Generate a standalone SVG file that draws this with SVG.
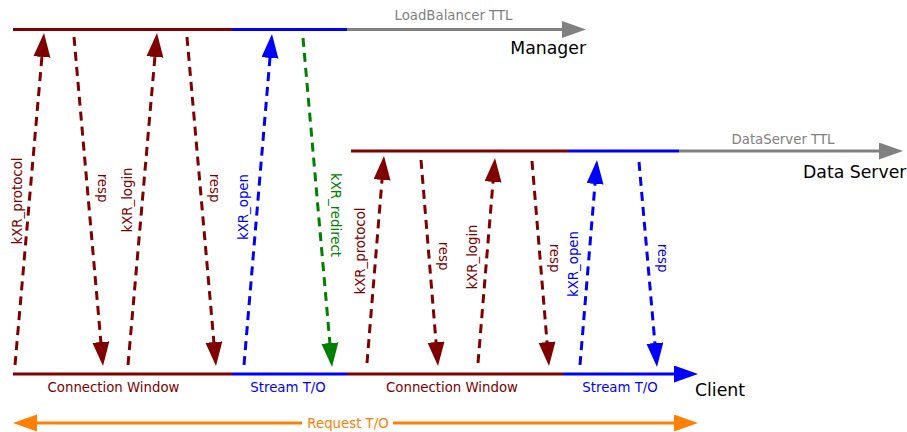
<svg xmlns="http://www.w3.org/2000/svg" width="907" height="432" viewBox="0 0 907 432">
<style>
text{font-family:"DejaVu Sans","Liberation Sans",sans-serif;font-size:13.3px}
.big{font-size:17.3px;fill:#000}
.dr{fill:#800000}.bl{fill:#0000ff}.gr{fill:#008000}.gy{fill:#808080}.or{fill:#ff8000}
.h{stroke-width:3;fill:none}
.d{stroke-width:3;fill:none;stroke-dasharray:9,6}
</style>
<defs>
<marker id="mDr" markerUnits="userSpaceOnUse" markerWidth="25" markerHeight="18" refX="12" refY="8.5" orient="auto"><path d="M0,0L24,8.5L0,17z" fill="#800000"/></marker>
<marker id="mBl" markerUnits="userSpaceOnUse" markerWidth="25" markerHeight="18" refX="12" refY="8.5" orient="auto"><path d="M0,0L24,8.5L0,17z" fill="#0000ff"/></marker>
<marker id="mGr" markerUnits="userSpaceOnUse" markerWidth="25" markerHeight="18" refX="12" refY="8.5" orient="auto"><path d="M0,0L24,8.5L0,17z" fill="#008000"/></marker>
<marker id="mGy" markerUnits="userSpaceOnUse" markerWidth="25" markerHeight="18" refX="12" refY="8.5" orient="auto"><path d="M0,0L24,8.5L0,17z" fill="#808080"/></marker>
<marker id="mOr" markerUnits="userSpaceOnUse" markerWidth="25" markerHeight="18" refX="12" refY="8.5" orient="auto-start-reverse"><path d="M0,0L24,8.5L0,17z" fill="#ff8000"/></marker>
</defs>

<g id="manager">
<line class="h" x1="13" y1="29.5" x2="232" y2="29.5" stroke="#800000"/>
<line class="h" x1="232" y1="29.5" x2="347" y2="29.5" stroke="#0000ff"/>
<line class="h" x1="347" y1="29.5" x2="574" y2="29.5" stroke="#808080" marker-end="url(#mGy)"/>
<text class="gy" x="453.5" y="20" text-anchor="middle">LoadBalancer TTL</text>
<text class="big" x="586" y="54" text-anchor="end">Manager</text>
</g>

<g id="dataserver">
<line class="h" x1="351" y1="151" x2="568" y2="151" stroke="#800000"/>
<line class="h" x1="568" y1="151" x2="679" y2="151" stroke="#0000ff"/>
<line class="h" x1="679" y1="151" x2="891" y2="151" stroke="#808080" marker-end="url(#mGy)"/>
<text class="gy" x="783" y="144" text-anchor="middle">DataServer TTL</text>
<text class="big" x="803" y="178">Data Server</text>
</g>

<g id="client">
<line class="h" x1="13" y1="374" x2="232" y2="374" stroke="#800000"/>
<line class="h" x1="232" y1="374" x2="347" y2="374" stroke="#0000ff"/>
<line class="h" x1="347" y1="374" x2="563" y2="374" stroke="#800000"/>
<line class="h" x1="563" y1="374" x2="686" y2="374" stroke="#0000ff" marker-end="url(#mBl)"/>
<text class="dr" x="113.5" y="392" text-anchor="middle">Connection Window</text>
<text class="bl" x="288" y="392" text-anchor="middle">Stream T/O</text>
<text class="dr" x="452" y="392" text-anchor="middle">Connection Window</text>
<text class="bl" x="620" y="392" text-anchor="middle">Stream T/O</text>
<text class="big" x="695" y="396">Client</text>
</g>

<g id="request">
<line class="h" x1="25" y1="423" x2="686" y2="423" stroke="#ff8000" marker-start="url(#mOr)" marker-end="url(#mOr)"/>
<rect x="302" y="414" width="91" height="17" fill="#fff"/>
<text class="or" x="348" y="428" text-anchor="middle">Request T/O</text>
</g>

<g id="connectors">
<line class="d" x1="15" y1="365" x2="42.96" y2="44.95" stroke="#800000" marker-end="url(#mDr)"/>
<line class="d" x1="74" y1="37" x2="101.95" y2="354.05" stroke="#800000" marker-end="url(#mDr)"/>
<line class="d" x1="128" y1="365" x2="155.96" y2="44.95" stroke="#800000" marker-end="url(#mDr)"/>
<line class="d" x1="187" y1="37" x2="214.95" y2="354.05" stroke="#800000" marker-end="url(#mDr)"/>
<line class="d" x1="244" y1="365" x2="270.99" y2="45.96" stroke="#0000ff" marker-end="url(#mBl)"/>
<line class="d" x1="303" y1="38" x2="330.95" y2="355.05" stroke="#008000" marker-end="url(#mGr)"/>
<line class="d" x1="367" y1="363" x2="383.02" y2="167.96" stroke="#800000" marker-end="url(#mDr)"/>
<line class="d" x1="421" y1="160" x2="437.01" y2="354.04" stroke="#800000" marker-end="url(#mDr)"/>
<line class="d" x1="478" y1="363" x2="494.01" y2="169.96" stroke="#800000" marker-end="url(#mDr)"/>
<line class="d" x1="532" y1="161" x2="548.01" y2="354.04" stroke="#800000" marker-end="url(#mDr)"/>
<line class="d" x1="580" y1="365" x2="596.01" y2="171.96" stroke="#0000ff" marker-end="url(#mBl)"/>
<line class="d" x1="639" y1="162" x2="655.95" y2="355.05" stroke="#0000ff" marker-end="url(#mBl)"/>

<text class="dr" transform="translate(22,201) rotate(-90)" text-anchor="middle">kXR_protocol</text>
<text class="dr" transform="translate(98,188) rotate(90)" text-anchor="middle">resp</text>
<text class="dr" transform="translate(132,200) rotate(-90)" text-anchor="middle">kXR_login</text>
<text class="dr" transform="translate(210,188) rotate(90)" text-anchor="middle">resp</text>
<text class="bl" transform="translate(247.5,207) rotate(-90)" text-anchor="middle">kXR_open</text>
<text class="gr" transform="translate(330.5,215) rotate(90)" text-anchor="middle">kXR_redirect</text>
<text class="dr" transform="translate(364.5,251) rotate(-90)" text-anchor="middle">kXR_protocol</text>
<text class="dr" transform="translate(439,256) rotate(90)" text-anchor="middle">resp</text>
<text class="dr" transform="translate(476.5,257) rotate(-90)" text-anchor="middle">kXR_login</text>
<text class="dr" transform="translate(550,258) rotate(90)" text-anchor="middle">resp</text>
<text class="bl" transform="translate(577.5,264) rotate(-90)" text-anchor="middle">kXR_open</text>
<text class="bl" transform="translate(658,258) rotate(90)" text-anchor="middle">resp</text>
</g>
</svg>
